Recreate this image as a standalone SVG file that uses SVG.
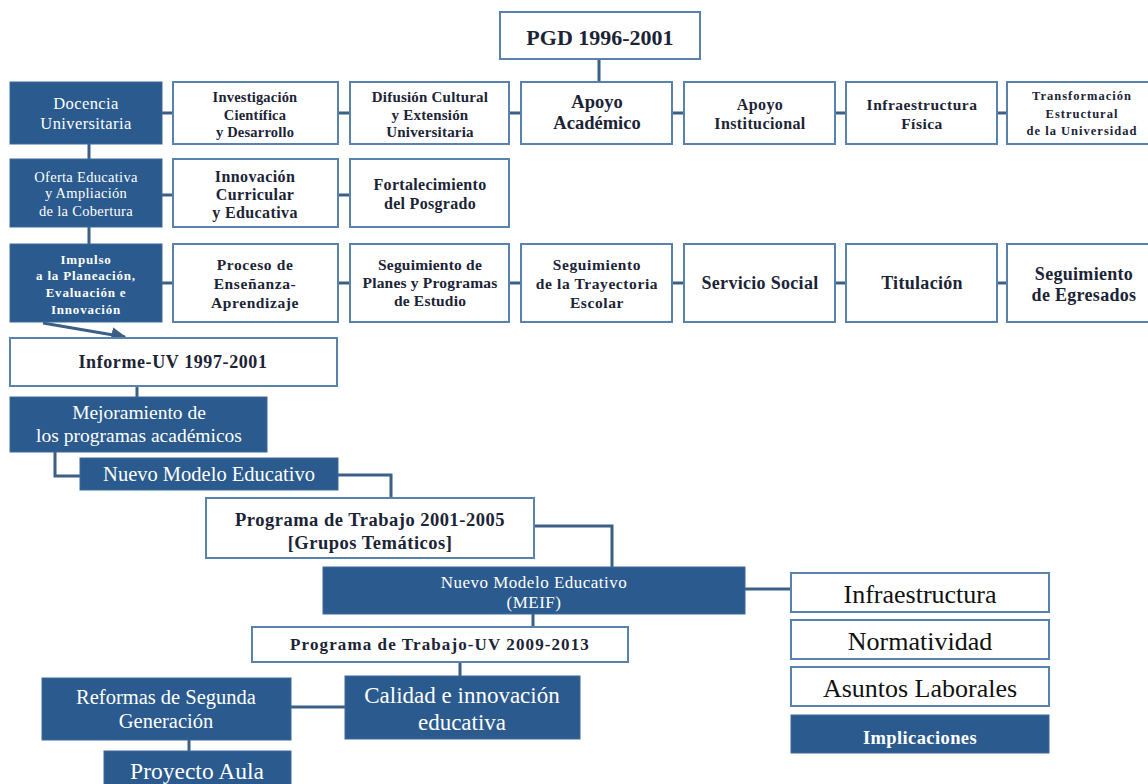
<svg xmlns="http://www.w3.org/2000/svg" width="1148" height="784" viewBox="0 0 1148 784">
  <style>
    .w { fill: #ffffff; stroke: #5a82ae; stroke-width: 2; }
    .b { fill: #2a5a8e; stroke: #3f6a9c; stroke-width: 1; }
    .c { fill: none; stroke: #3b5f86; stroke-width: 3; }
    text { font-family: "Liberation Serif", "Times New Roman", serif; text-anchor: middle; }
    .tb { fill: #1b2436; font-weight: bold; }
    .tn { fill: #111111; }
    .tw { fill: #ffffff; }
    .twb { fill: #ffffff; font-weight: bold; }
  </style>
  <defs>
    <marker id="arrow" viewBox="0 0 10 10" refX="9" refY="5" markerWidth="5" markerHeight="5" orient="auto">
      <path d="M0,0 L10,5 L0,10 z" fill="#3b5f86"/>
    </marker>
  </defs>

  <g id="connectors">
    <!-- PGD to first row -->
    <path class="c" d="M599,59 V81"/>
    <!-- first row links -->
    <path class="c" d="M162,113 H172 M338,113 H350 M509,113 H521 M672,113 H684 M835,113 H846 M997,113 H1007"/>
    <!-- second row links -->
    <path class="c" d="M162,195 H172 M338,195 H350"/>
    <!-- third row links -->
    <path class="c" d="M162,283 H172 M338,283 H350 M509,283 H521 M672,283 H684 M835,283 H846 M997,283 H1007"/>
    <!-- left column -->
    <path class="c" d="M89,144 V159 M89,227 V244"/>
    <path class="c" stroke-width="2" d="M43,323 L125,337" marker-end="url(#arrow)"/>
    <!-- cascade -->
    <path class="c" d="M137,386 V397"/>
    <path class="c" d="M55,452 V476 H80"/>
    <path class="c" d="M338,475 H391 V498"/>
    <path class="c" d="M534,526 H612 V567"/>
    <path class="c" d="M745,589 H791"/>
    <path class="c" d="M533,614 V627"/>
    <path class="c" d="M460,662 V676"/>
    <path class="c" d="M291,707 H345"/>
    <path class="c" d="M189,740 V751"/>
  </g>

  <g id="pgd">
    <rect class="w" x="500" y="12" width="200" height="47"/>
    <text class="tb" x="600" y="45" font-size="22">PGD 1996-2001</text>
  </g>

  <!-- first row -->
  <g id="docencia">
    <rect class="b" x="10" y="82" width="152" height="62"/>
    <text class="tw" x="86" y="108.5" font-size="16.5" letter-spacing="0.4">Docencia</text>
    <text class="tw" x="86" y="128.5" font-size="16.5" letter-spacing="0.4">Universitaria</text>
  </g>
  <g id="investigacion">
    <rect class="w" x="173" y="82" width="165" height="62"/>
    <text class="tb" x="255" y="102" font-size="14.5" letter-spacing="0.2">Investigación</text>
    <text class="tb" x="255" y="120" font-size="14.5" letter-spacing="0.2">Científica</text>
    <text class="tb" x="255" y="137" font-size="14.5" letter-spacing="0.2">y Desarrollo</text>
  </g>
  <g id="difusion">
    <rect class="w" x="350" y="82" width="159" height="62"/>
    <text class="tb" x="430" y="102" font-size="15" letter-spacing="0.2">Difusión Cultural</text>
    <text class="tb" x="430" y="120" font-size="15" letter-spacing="0.2">y Extensión</text>
    <text class="tb" x="430" y="137" font-size="15" letter-spacing="0.2">Universitaria</text>
  </g>
  <g id="apoyo-academico">
    <rect class="w" x="521" y="82" width="151" height="62"/>
    <text class="tb" x="597" y="108" font-size="18.5">Apoyo</text>
    <text class="tb" x="597" y="129" font-size="18.5">Académico</text>
  </g>
  <g id="apoyo-institucional">
    <rect class="w" x="684" y="82" width="151" height="62"/>
    <text class="tb" x="760" y="110" font-size="16" letter-spacing="0.4">Apoyo</text>
    <text class="tb" x="760" y="129" font-size="16" letter-spacing="0.4">Institucional</text>
  </g>
  <g id="infraestructura-fisica">
    <rect class="w" x="846" y="82" width="151" height="62"/>
    <text class="tb" x="922" y="110" font-size="15.5" letter-spacing="0.5">Infraestructura</text>
    <text class="tb" x="922" y="129" font-size="15.5" letter-spacing="0.5">Física</text>
  </g>
  <g id="transformacion">
    <rect class="w" x="1007" y="82" width="152" height="62"/>
    <text class="tb" x="1082" y="100" font-size="12.5" letter-spacing="1">Transformación</text>
    <text class="tb" x="1082" y="118" font-size="12.5" letter-spacing="1">Estructural</text>
    <text class="tb" x="1082" y="135" font-size="12.5" letter-spacing="1">de la Universidad</text>
  </g>

  <!-- second row -->
  <g id="oferta">
    <rect class="b" x="10" y="159" width="152" height="68"/>
    <text class="tw" x="86" y="182" font-size="14.5" letter-spacing="0.3">Oferta Educativa</text>
    <text class="tw" x="86" y="198" font-size="14.5" letter-spacing="0.3">y Ampliación</text>
    <text class="tw" x="86" y="216" font-size="14.5" letter-spacing="0.3">de la Cobertura</text>
  </g>
  <g id="innovacion-curricular">
    <rect class="w" x="173" y="159" width="165" height="68"/>
    <text class="tb" x="255" y="182" font-size="16" letter-spacing="0.4">Innovación</text>
    <text class="tb" x="255" y="200" font-size="16" letter-spacing="0.4">Curricular</text>
    <text class="tb" x="255" y="218" font-size="16" letter-spacing="0.4">y Educativa</text>
  </g>
  <g id="posgrado">
    <rect class="w" x="350" y="159" width="159" height="68"/>
    <text class="tb" x="430" y="190" font-size="16" letter-spacing="0.3">Fortalecimiento</text>
    <text class="tb" x="430" y="209" font-size="16" letter-spacing="0.3">del Posgrado</text>
  </g>

  <!-- third row -->
  <g id="impulso">
    <rect class="b" x="10" y="244" width="152" height="78"/>
    <text class="twb" x="86" y="264" font-size="13" letter-spacing="0.8">Impulso</text>
    <text class="twb" x="86" y="280" font-size="13" letter-spacing="0.8">a la Planeación,</text>
    <text class="twb" x="86" y="297" font-size="13" letter-spacing="0.8">Evaluación e</text>
    <text class="twb" x="86" y="314" font-size="13" letter-spacing="0.8">Innovación</text>
  </g>
  <g id="proceso">
    <rect class="w" x="173" y="244" width="165" height="78"/>
    <text class="tb" x="255" y="270" font-size="15.5" letter-spacing="0.6">Proceso de</text>
    <text class="tb" x="255" y="289" font-size="15.5" letter-spacing="0.6">Enseñanza-</text>
    <text class="tb" x="255" y="308" font-size="15.5" letter-spacing="0.6">Aprendizaje</text>
  </g>
  <g id="planes">
    <rect class="w" x="350" y="244" width="159" height="78"/>
    <text class="tb" x="430" y="270" font-size="15.5" letter-spacing="0.2">Seguimiento de</text>
    <text class="tb" x="430" y="288" font-size="15.5" letter-spacing="0.2">Planes y Programas</text>
    <text class="tb" x="430" y="306" font-size="15.5" letter-spacing="0.2">de Estudio</text>
  </g>
  <g id="trayectoria">
    <rect class="w" x="521" y="244" width="151" height="78"/>
    <text class="tb" x="597" y="270" font-size="15.5" letter-spacing="0.6">Seguimiento</text>
    <text class="tb" x="597" y="289" font-size="15.5" letter-spacing="0.6">de la Trayectoria</text>
    <text class="tb" x="597" y="308" font-size="15.5" letter-spacing="0.6">Escolar</text>
  </g>
  <g id="servicio-social">
    <rect class="w" x="684" y="244" width="151" height="78"/>
    <text class="tb" x="760" y="289" font-size="18" letter-spacing="0.3">Servicio Social</text>
  </g>
  <g id="titulacion">
    <rect class="w" x="846" y="244" width="151" height="78"/>
    <text class="tb" x="922" y="289" font-size="18" letter-spacing="0.3">Titulación</text>
  </g>
  <g id="egresados">
    <rect class="w" x="1007" y="244" width="152" height="78"/>
    <text class="tb" x="1084" y="280" font-size="18" letter-spacing="0.3">Seguimiento</text>
    <text class="tb" x="1084" y="301" font-size="18" letter-spacing="0.3">de Egresados</text>
  </g>

  <!-- cascade -->
  <g id="informe">
    <rect class="w" x="10" y="338" width="327" height="48"/>
    <text class="tb" x="173" y="368" font-size="18" letter-spacing="0.6">Informe-UV 1997-2001</text>
  </g>
  <g id="mejoramiento">
    <rect class="b" x="10" y="397" width="257" height="55"/>
    <text class="tw" x="139" y="419" font-size="19.5">Mejoramiento de</text>
    <text class="tw" x="139" y="442" font-size="19.5">los programas académicos</text>
  </g>
  <g id="nuevo-modelo">
    <rect class="b" x="80" y="458" width="258" height="32"/>
    <text class="tw" x="209" y="481" font-size="20.5">Nuevo Modelo Educativo</text>
  </g>
  <g id="programa-2001">
    <rect class="w" x="206" y="498" width="328" height="60"/>
    <text class="tb" x="370" y="526" font-size="18.5" letter-spacing="0.5">Programa de Trabajo 2001-2005</text>
    <text class="tb" x="370" y="549" font-size="18.5" letter-spacing="0.5">[Grupos Temáticos]</text>
  </g>
  <g id="meif">
    <rect class="b" x="323" y="567" width="422" height="47"/>
    <text class="tw" x="534" y="587.5" font-size="17" letter-spacing="0.5">Nuevo Modelo Educativo</text>
    <text class="tw" x="534" y="607.5" font-size="17" letter-spacing="0.5">(MEIF)</text>
  </g>
  <g id="programa-2009">
    <rect class="w" x="252" y="627" width="376" height="35"/>
    <text class="tb" x="440" y="649.5" font-size="17" letter-spacing="1.1">Programa de Trabajo-UV 2009-2013</text>
  </g>
  <g id="calidad">
    <rect class="b" x="345" y="676" width="235" height="63"/>
    <text class="tw" x="462" y="702.5" font-size="23">Calidad e innovación</text>
    <text class="tw" x="462" y="729.5" font-size="23">educativa</text>
  </g>
  <g id="reformas">
    <rect class="b" x="42" y="678" width="249" height="62"/>
    <text class="tw" x="166" y="704" font-size="20.5">Reformas de Segunda</text>
    <text class="tw" x="166" y="728" font-size="20.5">Generación</text>
  </g>
  <g id="proyecto-aula">
    <rect class="b" x="104" y="751" width="187" height="40"/>
    <text class="tw" x="197" y="779" font-size="23.5">Proyecto Aula</text>
  </g>

  <!-- implications column -->
  <g id="infraestructura">
    <rect class="w" x="791" y="573" width="258" height="39"/>
    <text class="tn" x="920" y="602.5" font-size="26">Infraestructura</text>
  </g>
  <g id="normatividad">
    <rect class="w" x="791" y="620" width="258" height="39"/>
    <text class="tn" x="920" y="649.5" font-size="26">Normatividad</text>
  </g>
  <g id="asuntos-laborales">
    <rect class="w" x="791" y="667" width="258" height="39"/>
    <text class="tn" x="920" y="696.5" font-size="26">Asuntos Laborales</text>
  </g>
  <g id="implicaciones">
    <rect class="b" x="791" y="715" width="258" height="38"/>
    <text class="twb" x="920" y="744" font-size="18.5" letter-spacing="0.4">Implicaciones</text>
  </g>
</svg>
